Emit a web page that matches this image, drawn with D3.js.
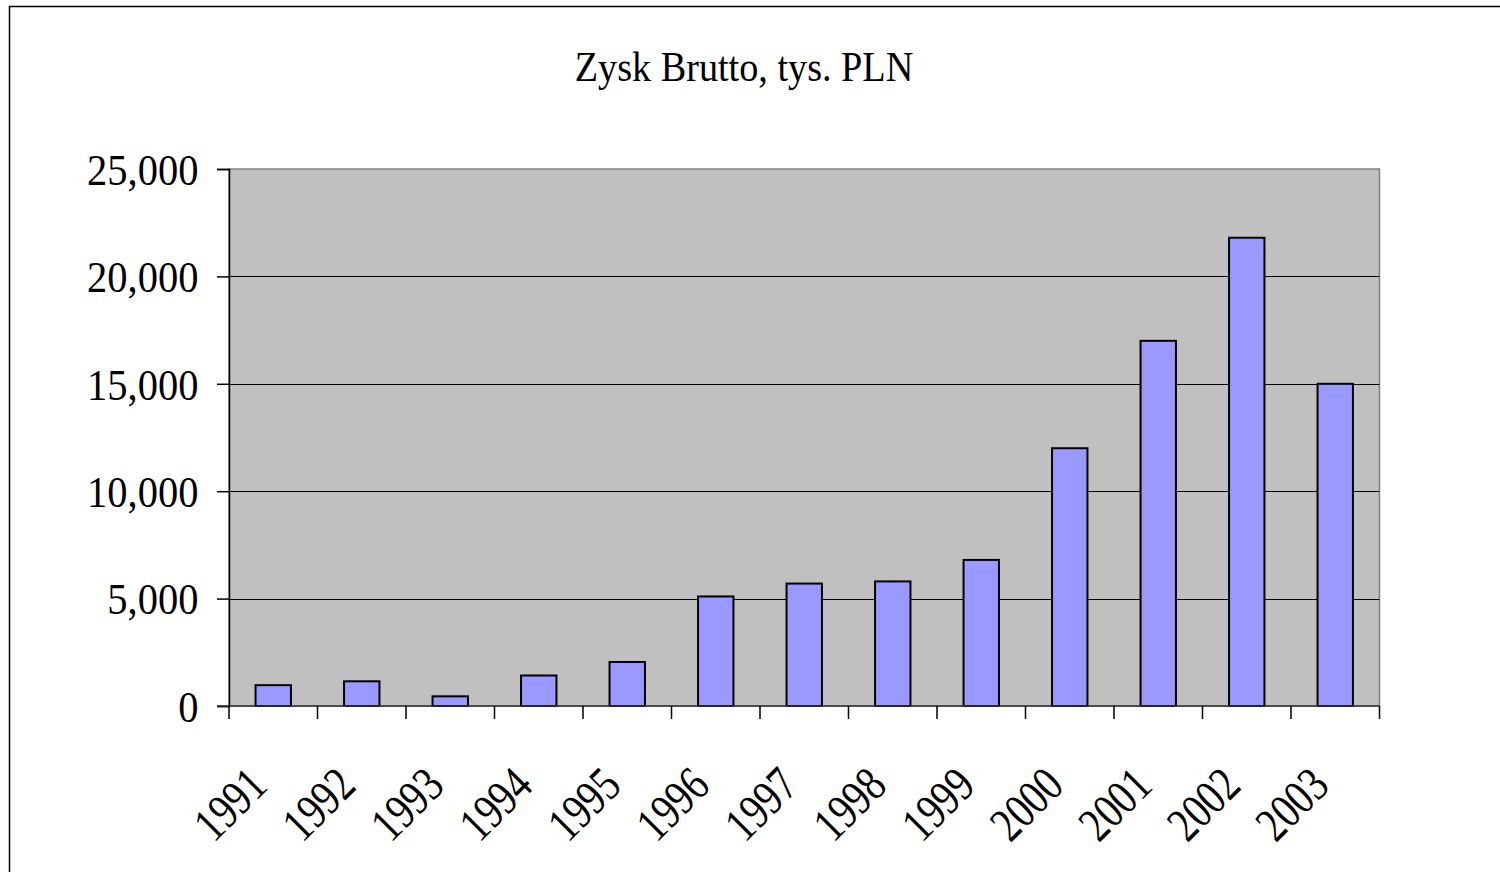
<!DOCTYPE html>
<html>
<head>
<meta charset="utf-8">
<script src="https://cdn.jsdelivr.net/npm/d3@7"></script>
<style>
  body { margin: 0; background: #fff; }
  svg { display: block; }
  text { font-family: "Liberation Serif", "Times New Roman", serif; fill: #000; }
</style>
</head>
<body>
<div class="chart"></div>
<script>
// chart data
const years = ['1991', '1992', '1993', '1994', '1995', '1996', '1997',
  '1998', '1999', '2000', '2001', '2002', '2003'];
const profit = [970, 1150, 450, 1420, 2050, 5100, 5700, 5800, 6800, 12000, 17000, 21800, 15000];
const yTicks = [0, 5000, 10000, 15000, 20000, 25000];
const title = 'Zysk Brutto, tys. PLN';

// svg parameters
const w = 1500;
const h = 872;
const plot = { left: 229, right: 1379.5, top: 169, bottom: 706 };

const svg = d3.select('.chart')
  .append('svg')
  .attr('width', w)
  .attr('height', h);

// outer frame (runs off right and bottom edges)
svg.append('rect')
  .attr('x', 9.5).attr('y', 6.5)
  .attr('width', w + 20).attr('height', h + 20)
  .attr('fill', '#fff')
  .attr('stroke', '#000')
  .attr('stroke-width', 1.5);

// scales
const x = d3.scaleBand(years, [plot.left, plot.right]).paddingInner(0.6).paddingOuter(0.3);
const xEdge = d3.scaleLinear([0, years.length], [plot.left, plot.right]);
const y = d3.scaleLinear([0, 25000], [plot.bottom, plot.top]);

// plot background
svg.append('rect')
  .attr('x', plot.left).attr('y', plot.top)
  .attr('width', plot.right - plot.left)
  .attr('height', plot.bottom - plot.top)
  .attr('fill', '#c0c0c0')
  .attr('stroke', '#808080')
  .attr('stroke-width', 1.5);

// gridlines
svg.append('g')
  .selectAll('line')
  .data(yTicks.slice(1, -1))
  .join('line')
  .attr('x1', plot.left).attr('x2', plot.right)
  .attr('y1', (d) => Math.round(y(d)) + 0.5)
  .attr('y2', (d) => Math.round(y(d)) + 0.5)
  .attr('stroke', '#000')
  .attr('stroke-width', 1);

// bars
svg.append('g')
  .selectAll('rect')
  .data(profit)
  .join('rect')
  .attr('x', (d, i) => x(years[i]))
  .attr('y', (d) => y(d))
  .attr('width', x.bandwidth())
  .attr('height', (d) => y(0) - y(d))
  .attr('fill', '#9999ff')
  .attr('stroke', '#000')
  .attr('stroke-width', 2);

// y axis
const yAxis = d3.axisLeft(y)
  .tickValues(yTicks)
  .tickSize(12)
  .tickPadding(22)
  .tickFormat(d3.format(','));
const gy = svg.append('g')
  .attr('transform', `translate(${plot.left},0)`)
  .call(yAxis);
gy.select('.domain').attr('stroke', '#000').attr('stroke-width', 1.5);
gy.selectAll('.tick line').attr('stroke', '#000').attr('stroke-width', 1.5);
gy.selectAll('.tick text')
  .style('font-size', '45px')
  .attr('dy', '0.34em')
  .attr('transform', 'scale(0.9,1)');

// x axis line and boundary ticks
const gx = svg.append('g');
gx.append('line')
  .attr('x1', plot.left - 12).attr('x2', plot.right)
  .attr('y1', plot.bottom).attr('y2', plot.bottom)
  .attr('stroke', '#333').attr('stroke-width', 1.5);
gx.selectAll('.edge')
  .data(d3.range(years.length + 1))
  .join('line')
  .attr('class', 'edge')
  .attr('x1', (d) => xEdge(d)).attr('x2', (d) => xEdge(d))
  .attr('y1', plot.bottom).attr('y2', plot.bottom + 13)
  .attr('stroke', '#000').attr('stroke-width', 1.5);

// rotated year labels
gx.selectAll('text')
  .data(years)
  .join('text')
  .attr('text-anchor', 'end')
  .attr('transform', (d) => `translate(${x(d) + x.bandwidth() / 2 - 4},${plot.bottom + 82}) rotate(-45) scale(0.8,1)`)
  .style('font-size', '49px')
  .text((d) => d);

// title
svg.append('text')
  .attr('text-anchor', 'middle')
  .attr('transform', 'translate(744,81) scale(0.91,1)')
  .style('font-size', '42px')
  .text(title);
</script>
</body>
</html>
